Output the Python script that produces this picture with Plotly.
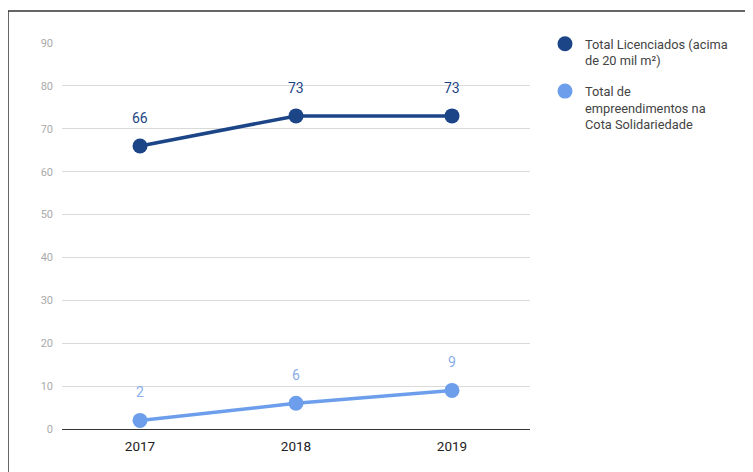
import plotly.graph_objects as go

years = ["2017", "2018", "2019"]
licenciados = [66, 73, 73]
cota = [2, 6, 9]
names = ["Total Licenciados (acima<br>de 20 mil m²)", "Total de<br>empreendimentos na<br>Cota Solidariedade"]
colors = ["#1c4587", "#6d9eeb"]
label_colors = ["#1c4587", "#8aaee8"]
yticks = [0, 10, 20, 30, 40, 50, 60, 70, 80, 90]

OFF = 8  # page body margin
W, H = 753, 472
L, T = 62 - OFF, 43 - OFF
R = W - (530 - OFF)
B = H - (429 - OFF)
pw, ph = W - L - R, H - T - B

def px_x(p):
    return (p - OFF - L) / pw

def px_y(p):
    return (H - B - (p - OFF)) / ph

fig = go.Figure()
for i, vals in enumerate([licenciados, cota]):
    fig.add_trace(go.Scatter(
        x=years, y=vals, mode="lines+markers", name=names[i],
        line=dict(color=colors[i], width=3.5),
        marker=dict(color=colors[i], size=15),
        showlegend=False,
    ))
    for j, v in enumerate(vals):
        fig.add_annotation(x=j, y=v, text=str(v), showarrow=False, yshift=28,
                           font=dict(size=14, color=label_colors[i], family="Roboto"))
for i in range(2):
    fig.add_trace(go.Scatter(
        x=[None], y=[None], mode="markers", name=names[i],
        marker=dict(color=colors[i], size=15), legendgroup=str(i),
    ))

fig.add_shape(type="rect", xref="paper", yref="paper",
              x0=px_x(8), x1=px_x(790), y0=px_y(500), y1=px_y(11),
              line=dict(color="#333333", width=1.5), layer="below")

fig.update_layout(
    width=W, height=H,
    margin=dict(l=L, r=R, t=T, b=B),
    paper_bgcolor="white", plot_bgcolor="white",
    font=dict(family="Roboto", color="#444444"),
    showlegend=True,
    legend=dict(x=px_x(545), y=px_y(29), xanchor="left", yanchor="top",
                valign="top", tracegroupgap=11, itemwidth=30,
                font=dict(size=12.8, color="#444444", family="Roboto")),
    xaxis=dict(type="category", range=[-0.5, 2.5], showgrid=False,
               showline=True, linecolor="#333333", linewidth=1.2,
               ticks="", tickfont=dict(size=13.5, color="#222222"),
               ticklabelstandoff=5, fixedrange=True),
    yaxis=dict(range=[0, 90], tickvals=yticks, showgrid=True, gridcolor="#d9d9d9",
               gridwidth=1, zeroline=False, showline=False,
               tickfont=dict(size=11, color="#aaaaaa"), ticklabelstandoff=8),
)

fig.write_html("out.html")
